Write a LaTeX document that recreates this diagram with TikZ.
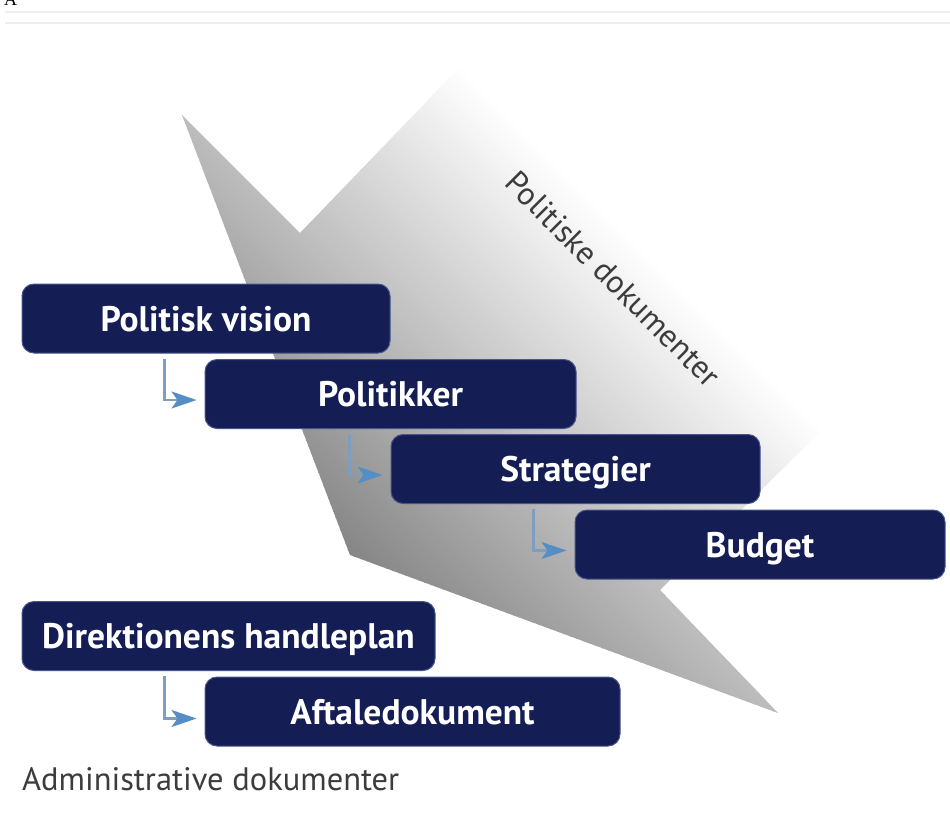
\documentclass[tikz,border=0pt]{standalone}
\usepackage{fontspec}
\setmainfont{PT Sans}
\newfontfamily\serifA{Liberation Serif}
\usetikzlibrary{arrows.meta,calc}
\definecolor{navy}{RGB}{20,29,84}
\definecolor{navyedge}{RGB}{70,85,140}
\definecolor{connline}{RGB}{125,158,190}
\definecolor{connhead}{RGB}{85,142,196}
\definecolor{labelgray}{RGB}{60,60,60}
\definecolor{rulegray}{RGB}{238,238,238}
\begin{document}
\begin{tikzpicture}[x=1pt,y=-1pt,
  docbox/.style={draw=navyedge, line width=1pt, fill=navy, rounded corners=12pt,
    text=white, font=\bfseries\fontsize{35.5}{40}\selectfont,
    text height=25pt, text depth=0pt, inner sep=0pt, minimum height=69pt},
  conn/.style={draw=connline, line width=2.5pt,
    -{Stealth[length=25pt,width=17pt,inset=6pt,color=connhead]}},
  caption/.style={text=labelgray, inner sep=0pt}]
\useasboundingbox (0,0) rectangle (950,823);
\fill[white] (0,0) rectangle (950,823);
% header remnants
\node[anchor=base west, inner sep=0pt, font=\serifA\fontsize{18}{20}\selectfont] (hdr) at (4,5) {A};
\draw[rulegray, line width=2pt] (5,12) -- (950,12);
\draw[rulegray, line width=2pt] (5,23) -- (950,23);
% big shaded arrow
\begin{scope}
\clip (182,115) -- (300,233) -- (460,67) -- (822,430) -- (660,590) -- (778,713) -- (350,555) -- cycle;
\foreach \u in {-214,-210,...,398}{
  \pgfmathsetmacro\p{max(0,min(47,(390-\u)/590*47))}
  \fill[black!\p] (\u,0) -- (\u+4.6,0) -- (\u+904.6,900) -- (\u+900,900) -- cycle;
}
\end{scope}
\node[caption, font=\fontsize{32}{36}\selectfont, rotate=-45] (pol) at (613,279) {Politiske dokumenter};
% boxes
\node[docbox, minimum width=368pt] (pv) at (206,318.5) {Politisk vision};
\node[docbox, minimum width=371pt] (pk) at (390.5,394) {Politikker};
\node[docbox, minimum width=369pt] (st) at (575.5,469) {Strategier};
\node[docbox, minimum width=370pt] (bu) at (760,544.5) {Budget};
\node[docbox, minimum width=413pt] (di) at (228.5,636) {Direktionens handleplan};
\node[docbox, minimum width=415pt] (af) at (412.5,711.5) {Aftaledokument};
% connectors
\draw[conn] ($(pv.south west)+(143,5)$) |- ($(pk.west)+(-8,6)$);
\draw[conn] ($(pk.south west)+(145,5)$) |- ($(st.west)+(-8,6)$);
\draw[conn] ($(st.south west)+(143,5)$) |- ($(bu.west)+(-8,6)$);
\draw[conn] ($(di.south west)+(143,5)$) |- ($(af.west)+(-8,7)$);
% bottom caption
\node[caption, anchor=base west, font=\fontsize{32.5}{36}\selectfont] (adm) at (22,790) {Administrative dokumenter};
\end{tikzpicture}
\end{document}
